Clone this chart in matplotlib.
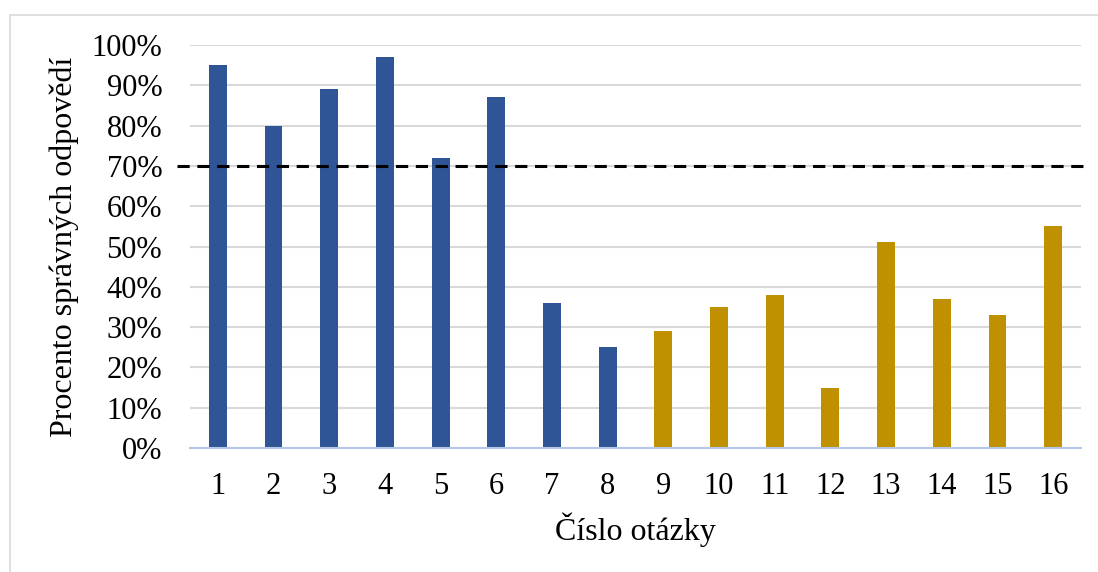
import numpy as np
import matplotlib.pyplot as plt
from matplotlib.patches import Rectangle
from matplotlib.lines import Line2D

# data
questions = [str(i) for i in range(1, 17)]
percent_correct = [0.95, 0.80, 0.89, 0.97, 0.72, 0.87, 0.36, 0.25,
                   0.29, 0.35, 0.38, 0.15, 0.51, 0.37, 0.33, 0.55]
group_first = 8          # first 8 questions blue, rest gold
threshold = 0.70
y_ticks = [i / 10 for i in range(11)]

BLUE = "#2F5597"
GOLD = "#BF9000"

plt.rcParams["font.family"] = ["Liberation Serif", "DejaVu Serif"]

fig = plt.figure(figsize=(10.98, 5.72), dpi=100)
W, H = 1098, 572

# light frame around the chart (cut off at right and bottom)
fig.patches.append(Rectangle((10 / W, -0.1), 1.2, 1 - 15 / H + 0.1,
                             transform=fig.transFigure, fill=False,
                             edgecolor="#D9D9D9", linewidth=1.2))

ax = fig.add_axes([190 / W, 1 - 448 / H, (1081 - 190) / W, (448 - 45) / H])

x = np.arange(len(questions))
colors = [BLUE if i < group_first else GOLD for i in range(len(questions))]
ax.bar(x, percent_correct, width=0.32, color=colors, zorder=3)

ax.set_xlim(-0.5, len(questions) - 0.5)
ax.set_ylim(0, 1.0)
ax.set_yticks(y_ticks)
ax.set_yticklabels([f"{int(round(t * 100))}%" for t in y_ticks])
ax.set_xticks(x)
ax.set_xticklabels(questions)
ax.tick_params(axis="both", length=0, labelsize=22, colors="black")
ax.tick_params(axis="y", pad=20)
ax.tick_params(axis="x", pad=17)

ax.grid(axis="y", color="#D9D9D9", linewidth=1.5, zorder=0)
for s in ["top", "right", "left"]:
    ax.spines[s].set_visible(False)
ax.spines["bottom"].set_color("#B4C7E7")
ax.spines["bottom"].set_linewidth(1.5)
ax.spines["bottom"].set_zorder(4)

# 70 % threshold, slightly wider than the plot area
ax.add_line(Line2D([-0.015, 1.003], [threshold, threshold],
                   transform=ax.get_yaxis_transform(), color="black",
                   linestyle=(0, (4, 2.5)), linewidth=2.2, clip_on=False,
                   zorder=5))

ax.set_ylabel("Procento správných odpovědí", fontsize=23)
ax.set_xlabel("Číslo otázky", fontsize=23)
ax.yaxis.set_label_coords(-0.125, 0.5)
ax.xaxis.set_label_coords(0.5, -0.16)

fig.savefig("out.png", dpi=100)
